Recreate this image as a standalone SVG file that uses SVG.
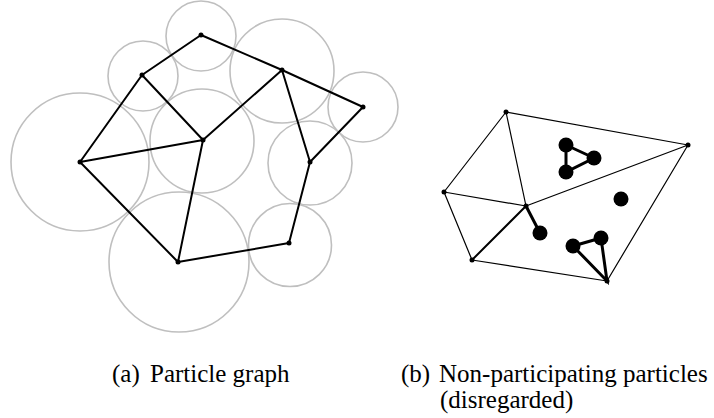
<svg xmlns="http://www.w3.org/2000/svg" width="714" height="418" viewBox="0 0 714 418">
<style>
.c{fill:none;stroke:#bfbfbf;stroke-width:1.6}
.e{stroke:#000;stroke-width:2;fill:none;stroke-linecap:round}
.t{stroke:#000;stroke-width:1.2;fill:none}
.k{stroke:#000;stroke-width:3;fill:none}
.n{fill:#000}
.cap{font-family:"Liberation Serif","Times New Roman",serif;font-size:25px;fill:#000}
</style>
<rect width="714" height="418" fill="#fff"/>
<g id="circles">
<circle class="c" cx="201" cy="36" r="35"/>
<circle class="c" cx="143" cy="76" r="35"/>
<circle class="c" cx="282" cy="71" r="52"/>
<circle class="c" cx="363" cy="107" r="35"/>
<circle class="c" cx="202" cy="141" r="52"/>
<circle class="c" cx="80" cy="162" r="69"/>
<circle class="c" cx="310" cy="163" r="42"/>
<circle class="c" cx="290" cy="245" r="41.5"/>
<circle class="c" cx="179" cy="262" r="70"/>
</g>
<g id="connectors-a">
<path class="e" d="M201,35 L142,75 M201,35 L282,70 M142,75 L203,140 M142,75 L80,162 M282,70 L203,140 M282,70 L363,107 M282,70 L310,162 M363,107 L310,162 M80,162 L203,140 M80,162 L178,262 M203,140 L178,262 M310,162 L289,243 M289,243 L178,262"/>
</g>
<g id="nodes-a">
<circle id="a1" class="n" cx="201" cy="35" r="2.5"/>
<circle id="a2" class="n" cx="142" cy="75" r="2.5"/>
<circle id="a3" class="n" cx="282" cy="70" r="2.5"/>
<circle id="a4" class="n" cx="363" cy="107" r="2.5"/>
<circle id="a5" class="n" cx="203" cy="140" r="2.5"/>
<circle id="a6" class="n" cx="80" cy="162" r="2.5"/>
<circle id="a7" class="n" cx="310" cy="162" r="2.5"/>
<circle id="a8" class="n" cx="289" cy="243" r="2.5"/>
<circle id="a9" class="n" cx="178" cy="262" r="2.5"/>
</g>
<g id="connectors-b">
<path class="t" d="M506,112 L688,145 M506,112 L444,192 M506,112 L526,206 M444,192 L526,206 M444,192 L472,260 M526,206 L688,145 M472,260 L607,281 M688,145 L607,281"/>
<path class="e" d="M526,206 L472,260"/>
<path class="k" d="M566,145 L594,158 L566,172 Z M526,206 L540,233 M573,246 L601,238 L607,281 Z"/>
</g>
<g id="nodes-b">
<circle id="b1" class="n" cx="506" cy="112" r="2.5"/>
<circle id="b2" class="n" cx="688" cy="145" r="2.5"/>
<circle id="b3" class="n" cx="444" cy="192" r="2.5"/>
<circle id="b4" class="n" cx="526" cy="206" r="2.5"/>
<circle id="b5" class="n" cx="472" cy="260" r="2.5"/>
<circle id="b6" class="n" cx="607" cy="281" r="2.5"/>
<circle id="p1" class="n" cx="566" cy="145" r="7.5"/>
<circle id="p2" class="n" cx="594" cy="158" r="7.5"/>
<circle id="p3" class="n" cx="566" cy="172" r="7.5"/>
<circle id="p4" class="n" cx="621" cy="199" r="7.5"/>
<circle id="p5" class="n" cx="540" cy="233" r="7.5"/>
<circle id="p6" class="n" cx="573" cy="246" r="7.5"/>
<circle id="p7" class="n" cx="601" cy="238" r="7.5"/>
</g>
<g id="captions">
<text class="cap" x="112" y="382">(a)</text>
<text class="cap" x="150" y="382">Particle graph</text>
<text class="cap" x="401" y="382">(b)</text>
<text class="cap" x="439" y="382">Non-participating particles</text>
<text class="cap" x="440" y="408">(disregarded)</text>
</g>
</svg>
